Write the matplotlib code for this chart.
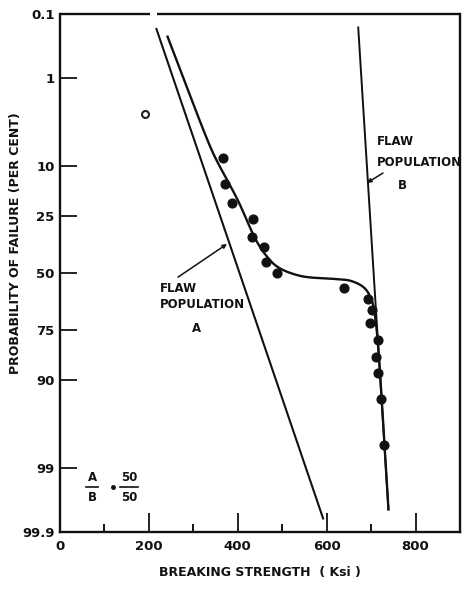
import numpy as np
import matplotlib
matplotlib.use('Agg')
import matplotlib.pyplot as plt
from statistics import NormalDist

# measured fracture data (strength in ksi, failure probability in per cent)
strength = [366, 371, 386, 434, 432, 459, 463, 488, 640,
            694, 701, 698, 716, 712, 716, 723, 730]
failure_pct = [8.5, 14.5, 20.2, 26.0, 33.4, 37.8, 44.8, 50.0, 57.1,
               62.2, 67.0, 72.4, 78.8, 84.1, 88.3, 93.3, 98.0]
open_strength = [192]
open_pct = [2.9]

# fitted lines for the two flaw populations
line_a_strength = [217, 592]
line_a_pct = [0.18, 99.83]
line_b_strength = [671, 739]
line_b_pct = [0.17, 99.76]

# combined (bimodal) distribution curve
curve_strength = [242, 332, 350, 400, 441, 463, 490, 542, 617, 655, 685, 701, 710, 739]
curve_pct = [0.24, 5.67, 8.55, 19.24, 34.72, 41.53, 47.17, 51.44, 52.83,
             53.78, 57.10, 62.59, 71.23, 99.76]

tick_pct = [0.1, 1, 10, 25, 50, 75, 90, 99, 99.9]
tick_labels = ['0.1', '1', '10', '25', '50', '75', '90', '99', '99.9']

nd = NormalDist()


def z(pcts):
    # normal probability scale
    return [nd.inv_cdf(p / 100.0) for p in pcts]


def smooth(xs, ys, sx, sy, n=25):
    # centripetal Catmull-Rom through the points, in roughly square units
    P = np.column_stack([np.asarray(xs, float) * sx, np.asarray(ys, float) * sy])
    P = np.vstack([2 * P[0] - P[1], P, 2 * P[-1] - P[-2]])
    out = []
    for i in range(1, len(P) - 2):
        p0, p1, p2, p3 = P[i - 1], P[i], P[i + 1], P[i + 2]
        t0 = 0.0
        t1 = t0 + np.linalg.norm(p1 - p0) ** 0.5
        t2 = t1 + np.linalg.norm(p2 - p1) ** 0.5
        t3 = t2 + np.linalg.norm(p3 - p2) ** 0.5
        for t in np.linspace(t1, t2, n, endpoint=False):
            a1 = (t1 - t) / (t1 - t0) * p0 + (t - t0) / (t1 - t0) * p1
            a2 = (t2 - t) / (t2 - t1) * p1 + (t - t1) / (t2 - t1) * p2
            a3 = (t3 - t) / (t3 - t2) * p2 + (t - t2) / (t3 - t2) * p3
            b1 = (t2 - t) / (t2 - t0) * a1 + (t - t0) / (t2 - t0) * a2
            b2 = (t3 - t) / (t3 - t1) * a2 + (t - t1) / (t3 - t1) * a3
            out.append((t2 - t) / (t2 - t1) * b1 + (t - t1) / (t2 - t1) * b2)
    out.append(P[-2])
    out = np.array(out)
    return out[:, 0] / sx, out[:, 1] / sy


fig = plt.figure(figsize=(4.75, 5.89), dpi=100)
ax = fig.add_axes([60 / 475, 1 - 532 / 589, 400 / 475, 518 / 589])

ink = '#111111'
ax.plot(line_a_strength, z(line_a_pct), color=ink, lw=1.5)
ax.plot(line_b_strength, z(line_b_pct), color=ink, lw=1.4)
cx, cy = smooth(curve_strength, z(curve_pct), 400 / 900, 84)
ax.plot(cx, cy, color=ink, lw=1.7)
ax.plot(strength, z(failure_pct), 'o', color=ink, ms=6.3, mec=ink)
ax.plot(open_strength, z(open_pct), 'o', mfc='white', mec='#222222', mew=1.5, ms=5)

ax.set_xlim(0, 900)
ax.set_ylim(z([99.9])[0], z([0.1])[0])

ax.set_yticks(z(tick_pct))
ax.set_yticklabels(tick_labels)
ax.set_xticks([0, 200, 400, 600, 800])
ax.set_xticklabels(['0', '200', '400', '600', '800'])
ax.set_xticks([100, 300, 500, 700], minor=True)
ax.tick_params(axis='y', direction='in', length=12, width=1.3, pad=4,
               labelsize=9.5, colors=ink)
ax.tick_params(axis='x', which='major', direction='in', length=14, width=1.3,
               pad=6, labelsize=9.5, colors=ink)
ax.tick_params(axis='x', which='minor', direction='in', length=6, width=1.3)
for lbl in ax.get_xticklabels() + ax.get_yticklabels():
    lbl.set_fontweight('bold')

for side in ['left', 'bottom', 'right']:
    ax.spines[side].set_linewidth(1.7)
    ax.spines[side].set_color(ink)
ax.spines['top'].set_visible(False)
# top border with the small gap
ax.plot([0, 0.225], [1, 1], transform=ax.transAxes, color=ink, lw=1.7,
        clip_on=False, solid_capstyle='butt')
ax.plot([0.2425, 1], [1, 1], transform=ax.transAxes, color=ink, lw=1.7,
        clip_on=False, solid_capstyle='butt')

ax.set_ylabel('PROBABILITY OF FAILURE (PER CENT)', fontsize=9, fontweight='bold',
              color=ink)
ax.yaxis.set_label_coords(-0.096, 0.558)
ax.set_xlabel('BREAKING STRENGTH  ( Ksi )', fontsize=9, fontweight='bold',
              color=ink)
ax.xaxis.set_label_coords(0.5, -0.066)

tkw = dict(transform=ax.transAxes, fontsize=8.5, fontweight='bold', color=ink)
ax.text(0.25, 0.471, 'FLAW', ha='left', va='center', **tkw)
ax.text(0.25, 0.440, 'POPULATION', ha='left', va='center', **tkw)
ax.text(0.34, 0.392, 'A', ha='center', va='center', **tkw)
ax.annotate('', xy=(0.4175, 0.556), xytext=(0.295, 0.492),
            xycoords='axes fraction', textcoords='axes fraction',
            arrowprops=dict(arrowstyle='-|>', color=ink, lw=1.1,
                            mutation_scale=6, shrinkA=0, shrinkB=0))

ax.text(0.7925, 0.753, 'FLAW', ha='left', va='center', **tkw)
ax.text(0.7925, 0.714, 'POPULATION', ha='left', va='center', **tkw)
ax.text(0.855, 0.668, 'B', ha='center', va='center', **tkw)
ax.annotate('', xy=(0.7675, 0.674), xytext=(0.8075, 0.693),
            xycoords='axes fraction', textcoords='axes fraction',
            arrowprops=dict(arrowstyle='-|>', color=ink, lw=1.1,
                            mutation_scale=6, shrinkA=0, shrinkB=0))

# A/B = 50/50 ratio note
fkw = dict(transform=ax.transAxes, fontsize=8.5, fontweight='bold', color=ink,
           ha='center', va='center')
ax.text(0.08, 0.106, 'A', **fkw)
ax.text(0.08, 0.066, 'B', **fkw)
ax.plot([0.065, 0.095], [0.087, 0.087], transform=ax.transAxes, color=ink, lw=1.2)
ax.plot([0.1325], [0.086], 'o', transform=ax.transAxes, color=ink, ms=2.5)
ax.text(0.1725, 0.106, '50', **fkw)
ax.text(0.1725, 0.066, '50', **fkw)
ax.plot([0.15, 0.195], [0.087, 0.087], transform=ax.transAxes, color=ink, lw=1.2)

fig.savefig('out.png', dpi=100)
